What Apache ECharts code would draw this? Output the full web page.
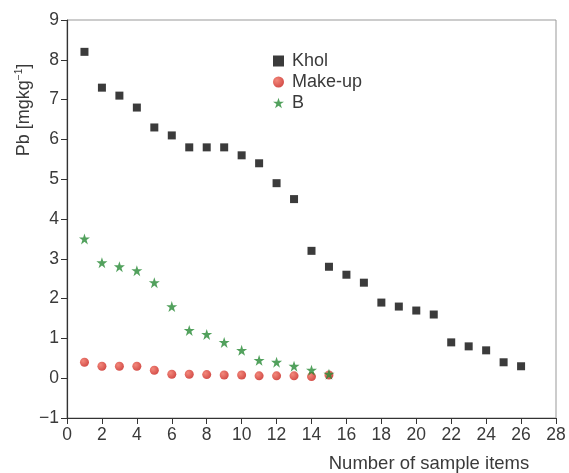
<!DOCTYPE html>
<html>
<head>
<meta charset="utf-8">
<script src="https://cdn.jsdelivr.net/npm/echarts@6/dist/echarts.min.js"></script>
<style>
  html, body { margin: 0; padding: 0; background: #fff; }
  #chart { width: 569px; height: 473px; }
</style>
</head>
<body>
<div id="chart"></div>
<script>
// sample numbers 1..26
var kholX = [1, 2, 3, 4, 5, 6, 7, 8, 9, 10, 11, 12, 13, 14, 15, 16, 17, 18, 19, 20, 21, 22, 23, 24, 25, 26];
var kholY = [8.2, 7.3, 7.1, 6.8, 6.3, 6.1, 5.8, 5.8, 5.8, 5.6, 5.4, 4.9, 4.5, 3.2, 2.8, 2.6, 2.4, 1.9, 1.8, 1.7, 1.6, 0.9, 0.8, 0.7, 0.4, 0.3];
var makeupX = [1, 2, 3, 4, 5, 6, 7, 8, 9, 10, 11, 12, 13, 14, 15];
var makeupY = [0.4, 0.3, 0.3, 0.3, 0.2, 0.1, 0.1, 0.09, 0.08, 0.08, 0.06, 0.06, 0.06, 0.04, 0.08];
var bX = [1, 2, 3, 4, 5, 6, 7, 8, 9, 10, 11, 12, 13, 14, 15];
var bY = [3.5, 2.9, 2.8, 2.7, 2.4, 1.8, 1.2, 1.1, 0.9, 0.7, 0.45, 0.4, 0.3, 0.2, 0.1];

function pairs(xs, ys) {
  return xs.map(function (x, i) { return [x, ys[i]]; });
}

var font = "'Liberation Sans', Arial, sans-serif";
var txt = "#3a3a3a";
var redBall = new echarts.graphic.RadialGradient(0.35, 0.35, 0.7, [
  { offset: 0, color: "#f06a5a" },
  { offset: 1, color: "#c8201a" }
]);

var chart = echarts.init(document.getElementById("chart"));
chart.setOption({
  animation: false,
  backgroundColor: "#fff",
  textStyle: { fontFamily: font },
  grid: { left: 67, right: 13, top: 20, bottom: 55, show: true, borderColor: "#999", borderWidth: 1 },
  legend: {
    left: 268,
    top: 47,
    orient: "vertical",
    itemGap: 3,
    itemWidth: 11,
    itemHeight: 11,
    textStyle: { fontSize: 18, color: txt, fontFamily: font, padding: [0, 0, 0, 3] },
    data: ["Khol", "Make-up", "B"]
  },
  xAxis: {
    type: "value",
    min: 0,
    max: 28,
    interval: 2,
    splitLine: { show: false },
    axisLine: { onZero: false, lineStyle: { color: "#333", width: 1.2 } },
    axisTick: { length: 6, lineStyle: { color: "#333" } },
    axisLabel: { fontSize: 17.5, color: txt, margin: 8, fontFamily: font }
  },
  yAxis: {
    type: "value",
    min: -1,
    max: 9,
    interval: 1,
    splitLine: { show: false },
    axisLine: { show: true, onZero: false, lineStyle: { color: "#333", width: 1.2 } },
    axisTick: { show: true, length: 6, lineStyle: { color: "#333" } },
    axisLabel: {
      fontSize: 17.5, color: txt, margin: 8, fontFamily: font,
      formatter: function (v) { return v < 0 ? "\u2212" + Math.abs(v) : v; }
    }
  },
  graphic: [
    {
      type: "text",
      x: 24,
      y: 110,
      rotation: Math.PI / 2,
      style: {
        text: "{a|Pb [mgkg}{s|\u22121}{a|]}",
        align: "center",
        verticalAlign: "middle",
        rich: {
          a: { fontSize: 18, fill: txt, fontFamily: font },
          s: { fontSize: 10, fill: txt, fontFamily: font, verticalAlign: "top", padding: [0, 0, 9, 0] }
        }
      }
    },
    {
      type: "text",
      x: 429,
      y: 464,
      style: {
        text: "Number of sample items",
        align: "center",
        verticalAlign: "middle",
        fontSize: 18.5,
        fill: txt,
        fontFamily: font
      }
    }
  ],
  series: [
    {
      name: "Khol",
      type: "scatter",
      symbol: "rect",
      symbolSize: 8,
      itemStyle: { color: "#0a0a0a" },
      data: pairs(kholX, kholY),
      z: 2
    },
    {
      name: "Make-up",
      type: "scatter",
      symbol: "circle",
      symbolSize: 9,
      itemStyle: { color: redBall },
      data: pairs(makeupX, makeupY),
      z: 3
    },
    {
      name: "B",
      type: "scatter",
      symbol: "path://M50,0 L61.8,35.4 L100,35.4 L69.1,57.3 L80.9,95.1 L50,72.1 L19.1,95.1 L30.9,57.3 L0,35.4 L38.2,35.4 Z",
      symbolSize: 11,
      itemStyle: { color: "#278a34" },
      data: pairs(bX, bY),
      z: 4
    }
  ]
});
</script>
</body>
</html>
